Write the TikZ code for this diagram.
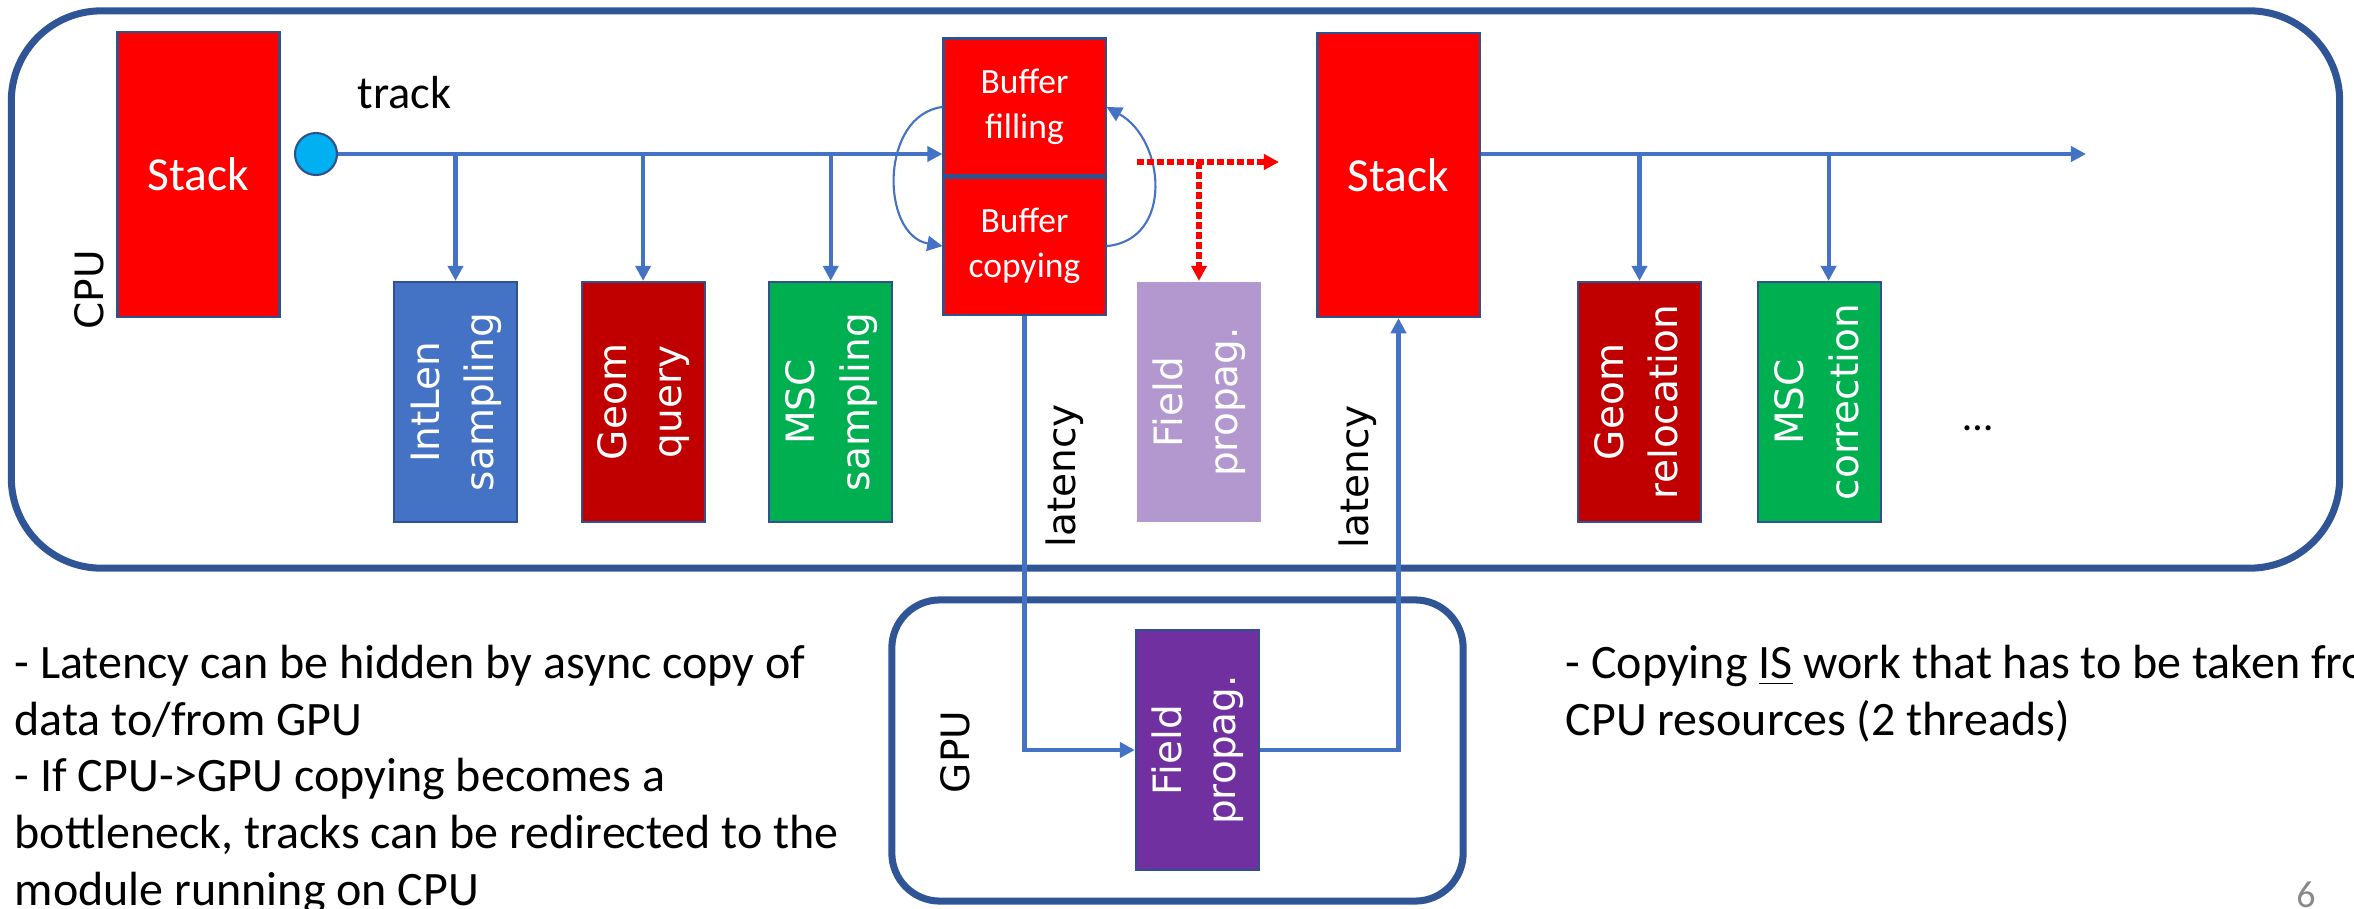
\documentclass[tikz,border=0pt]{standalone}
\usepackage{fontspec}
\setmainfont{Carlito}
\newfontfamily\vfont{DejaVu Sans}
\usepackage{graphicx}
\usetikzlibrary{shapes,arrows.meta}
\definecolor{edge}{RGB}{47,82,143}
\definecolor{rim}{RGB}{47,85,151}
\definecolor{link}{RGB}{68,114,196}
\definecolor{lenblue}{RGB}{68,114,196}
\definecolor{geomred}{RGB}{192,0,0}
\definecolor{mscgreen}{RGB}{0,176,80}
\definecolor{fieldlight}{RGB}{179,152,208}
\definecolor{fielddark}{RGB}{112,48,160}
\definecolor{trackdot}{RGB}{0,176,240}
\definecolor{pagegray}{RGB}{137,137,137}
\newcommand{\vlabel}[1]{\rotatebox{90}{\begin{tabular}{@{}c@{}}#1\end{tabular}}}
\tikzstyle{frm} = [rectangle, draw=rim, line width=2pt]
\tikzstyle{blk} = [rectangle, minimum width=1.23cm, minimum height=2.4cm, inner sep=0pt, text centered, draw=edge, line width=0.6pt, text=white, font=\vfont\fontsize{11.1}{15.6}\selectfont]
\tikzstyle{stk} = [blk, minimum width=1.62cm, minimum height=2.84cm, fill=red, font=\fontsize{13.5}{16}\selectfont]
\tikzstyle{buf} = [blk, minimum width=1.62cm, minimum height=1.37cm, fill=red, align=center, font=\fontsize{10.1}{12.8}\selectfont]
\tikzstyle{side} = [rotate=90, inner sep=0pt, font=\vfont\fontsize{11.1}{13}\selectfont]
\tikzstyle{note} = [anchor=north west, align=left, inner sep=0pt, font=\fontsize{13.65}{16.2}\selectfont]
\tikzstyle{ln} = [draw=link, line width=1.15pt]
\tikzstyle{ar} = [ln, -{Triangle[length=4.3pt,width=4.3pt]}]
\tikzstyle{thinar} = [draw=link, line width=0.6pt, -{Triangle[length=4.3pt,width=4.3pt]}]
\tikzstyle{reddots} = [draw=red, line width=1.7pt, dash pattern=on 2pt off 0.85pt, -{Triangle[length=4.3pt,width=4.3pt]}]

\begin{document}
\begin{tikzpicture}[x=0.01cm, y=-0.01cm, node distance=1.875cm]
		\useasboundingbox (0,0) rectangle (2354,909);
		% cpu and gpu frames
		\node[frm, rounded corners=0.9cm, minimum width=23.27cm, minimum height=5.57cm](cpu) at (1175.5,289.5){};
		\node[frm, rounded corners=0.48cm, minimum width=5.71cm, minimum height=3.01cm](gpu) at (1177.5,750.5){};
		\node[side](c) at (89,290){CPU};
		\node[side](g) at (955,752){GPU};
		
		\node[stk](1) at (198.5,174.5){Stack};
		\node[circle, draw=edge, line width=0.6pt, fill=trackdot, minimum size=0.42cm, inner sep=0pt](2) at (316,154){};
		\node[anchor=base west, inner sep=0pt, font=\fontsize{13.2}{16}\selectfont](t) at (357,108){track};
		\node[blk, fill=lenblue](3) at (455.5,402){\vlabel{IntLen\\sampling}};
		\node[blk, fill=geomred, right of=3](4){\vlabel{Geom\\query}};
		\node[blk, fill=mscgreen, right of=4](5){\vlabel{MSC\\sampling}};
		\node[buf](6) at (1024.5,107){Buffer\\filling};
		\node[buf, below of=6, node distance=1.39cm](7){Buffer\\copying};
		\node[blk, fill=fieldlight, draw=none](8) at (1199,402){\vlabel{Field\\propag.}};
		\node[stk](9) at (1398.5,175){Stack};
		\node[blk, fill=geomred](10) at (1639.5,402){\vlabel{Geom\\relocation}};
		\node[blk, fill=mscgreen, right of=10, xshift=-0.075cm](11){\vlabel{MSC\\correction}};
		\node[inner sep=0pt, font=\fontsize{12}{14}\selectfont](12) at (1978,428){\ldots};
		\node[blk, fill=fielddark](13) at (1197.5,750){\vlabel{Field\\propag.}};
		\node[side](l1) at (1065,476){latency};
		\node[side](l2) at (1358,477){latency};
		
		\coordinate(a) at (1137,162);
		\coordinate(b) at (1279,162);
		\coordinate(e) at (2086,154);
		\coordinate(m) at ([xshift=0.09cm]11.north);
		
		\draw[ar] (2)--(2 -| 6.west);
		\foreach \n in {3,4,5} \draw[ar] (\n.north |- 2)--(\n.north);
		\draw[thinar] (6.west) .. controls +(-63,8) and +(-62,-11) .. (7.west);
		\draw[thinar] (7.east) .. controls +(67,-6) and +(59,33) .. (6.east);
		\draw[reddots] (a)--(b);
		\draw[reddots] (a -| 8.north)--(8.north);
		\draw[ar] (7.south)--(7.south |- 13.west)--(13.west);
		\draw[ar] (13.east)--(13.east -| 9.south)--(9.south);
		\draw[ar] (2 -| 9.east)--(e);
		\draw[ar] (10.north |- e)--(10.north);
		\draw[ar] (m |- e)--(m);
		
		\node[note](n1) at (14,644){- Latency can be hidden by async copy of\\data to/from GPU\\- If CPU->GPU copying becomes a\\bottleneck, tracks can be redirected to the\\module running on CPU};
		\node[note](n2) at (1565,644){- Copying \underline{IS} work that has to be taken from\\CPU resources (2 threads)};
		\node[anchor=base, text=pagegray, font=\fontsize{10.8}{13}\selectfont](p) at (2306,907){6};
		\end{tikzpicture}
\end{document}
